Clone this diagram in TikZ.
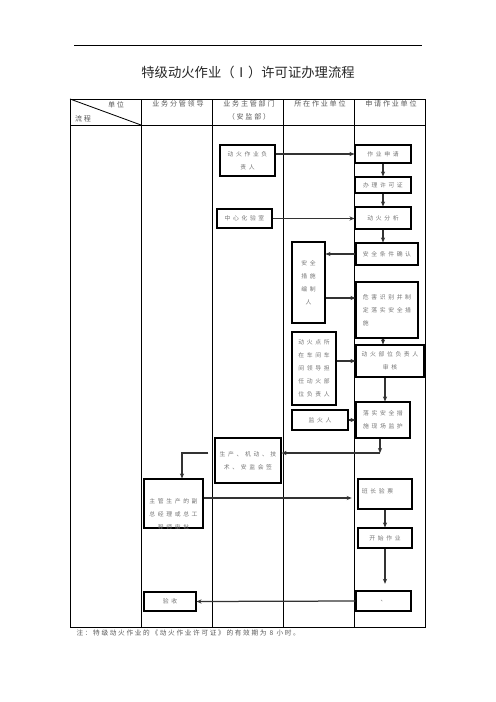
\documentclass[tikz,border=0pt]{standalone}
\usepackage{fontspec}
\setmainfont{Noto Sans CJK SC}
\newfontfamily\titlefont{Noto Sans CJK SC}
\newfontfamily\boxfont[LetterSpace=45]{Noto Sans CJK SC}
\newfontfamily\headfont[LetterSpace=25]{Noto Sans CJK SC}
\usetikzlibrary{arrows.meta}

\tikzset{every picture/.style={line width=1.2pt}}
\tikzset{
  box/.style={draw,line width=1.3pt,inner sep=0pt,align=center,text=black!55,
    font=\boxfont\fontsize{7}{15.6}\selectfont},
  flow/.style={draw=black!80,line width=1.5pt,-{Stealth[length=6pt,width=5pt]}},
  headtext/.style={inner sep=0pt,align=center,text=black!65,
    font=\headfont\fontsize{8.5}{15.6}\selectfont},
}

\begin{document}
\begin{tikzpicture}[x=1.2pt,y=1.2pt,yscale=-1,xscale=1]
	\path[use as bounding box] (0,0) rectangle (496,702);

	%Straight Lines: top rule
	\draw [line width=1pt] (74,45) -- (422,45) ;
	% Text Node
	\node [text=black!85,font=\titlefont\fontsize{16}{19}\selectfont] (title) at (248,72) {特级动火作业（Ⅰ）许可证办理流程};

	%Shape: Table
	\draw (70,99) rectangle (425.5,627) ;
	\draw (70,125) -- (425.5,125) ;
	\foreach \x in {141,212.5,283.5,354.5} {
		\draw (\x,99) -- (\x,627) ;
	}
	\draw [line width=1pt] (70,99) -- (141,125) ;

	% Text Node
	\node [headtext] (hdunit) at (116,105) {单位};
	\node [headtext] (hdflow) at (83,119) {流程};
	\node [headtext] (hdlead) at (178,104) {业务分管领导};
	\node [headtext] (hddept) at (249,110.5) {业务主管部门\\（安监部）};
	\node [headtext] (hdsite) at (320,104) {所在作业单位};
	\node [headtext] (hdapply) at (391,104) {申请作业单位};

	%Shape: Boxes, 所在 / 主管 columns
	\node [box,minimum width=66pt,minimum height=37.2pt] (fzr) at (247.5,160.5) {动火作业负\\责人};
	\node [box,minimum width=66pt,minimum height=22.8pt] (hys) at (244.5,218.5) {中心化验室};
	\node [box,minimum width=39.6pt,minimum height=97.2pt] (bzr) at (308.5,282.5) {安全\\措施\\编制\\人};
	\node [box,minimum width=52.8pt,minimum height=87.6pt] (cj) at (314,368.5) {动火点所\\在车间车\\间领导担\\任动火部\\位负责人};
	\node [box,minimum width=67.2pt,minimum height=24pt] (jhr) at (320,420) {监火人};
	\node [box,minimum width=79.2pt,minimum height=54pt] (hq) at (248,460.5) {\raisebox{6.6pt}{\begin{tabular}{@{}c@{}}生产、机动、技\\术、安监会签\end{tabular}}};

	%Shape: Boxes, 申请作业单位 column
	\node [box,minimum width=67.2pt,minimum height=21.6pt] (sq) at (383,154) {作业申请};
	\node [box,minimum width=67.2pt,minimum height=19.2pt] (bl) at (383,185) {办理许可证};
	\node [box,minimum width=67.2pt,minimum height=26.4pt] (fx) at (383,218) {动火分析};
	\node [box,minimum width=74.4pt,minimum height=26.4pt] (qr) at (387,254) {安全条件确认};
	\node [box,minimum width=74.4pt,minimum height=67.2pt] (wh) at (387,310) {\raisebox{6pt}{\begin{tabular}{@{}l@{}}危害识别并制\\定落实安全措\\施\end{tabular}}};
	\node [box,minimum width=81.6pt,minimum height=38.4pt] (sh) at (390,361) {动火部位负责人\\审核};
	\node [box,minimum width=64.8pt,minimum height=43.2pt] (jh) at (383,420) {落实安全措\\施现场监护};
	\node [box,minimum width=64.8pt,minimum height=36pt] (yp) at (385,494) {\raisebox{7pt}{班长验票\hspace{18pt}}};
	\node [box,minimum width=64.8pt,minimum height=24pt] (ks) at (385,538) {开始作业};
	\node [box,minimum width=66pt,minimum height=24pt] (fin) at (383.5,601) {、};

	%Shape: Boxes, 分管领导 column
	\node [box,minimum width=70.8pt,minimum height=58.8pt] (zg) at (173.5,503.5) {};
	\begin{scope}
		\clip (zg.south west) rectangle (zg.north east);
		\node [box,draw=none] (zgtext) at (173.5,514) {主管生产的副\\总经理或总工\\程师审批};
	\end{scope}
	\node [box,minimum width=62.4pt,minimum height=22.8pt] (ys) at (170,601.5) {验收};

	% turning points
	\coordinate (whin) at (0,298);
	\coordinate (turn1) at (380,453);
	\coordinate (turn2) at (182,453);
	\coordinate (ypin) at (0,498);

	%Straight Lines: connectors
	\draw [flow] (fzr.east |- sq.west) -- (sq.west) ;
	\draw [flow] (hys.east) -- (hys.east -| fx.west) ;
	\draw [flow] (sq.south) -- (bl.north) ;
	\draw [flow] (bl.south) -- (fx.north) ;
	\draw [flow] (fx.south) -- (fx.south |- qr.north) ;
	\draw [flow] (qr.west) -- (qr.west -| bzr.east) ;
	\draw [flow] (bzr.east |- whin) -- (wh.west |- whin) ;
	\draw [flow] (wh.south -| fx.south) -- (fx.south |- sh.north) ;
	\draw [flow] (cj.east |- sh.west) -- (sh.west) ;
	\draw [flow] (sh.south -| ks.south) -- (ks.south |- jh.north) ;
	\draw [flow] (jhr.east) -- (jhr.east -| jh.west) ;
	\draw [flow] (jh.south -| turn1) -- (turn1) ;
	\draw [flow] (turn1) -- (turn1 -| hq.east) ;
	\draw [flow,shorten <=7.2pt] (hq.west |- turn2) -- (turn2) -- (turn2 |- zg.north) ;
	\draw [flow,shorten >=7pt] (zg.east |- ypin) -- (yp.west |- ypin) ;
	\draw [flow] (yp.south) -- (ks.north) ;
	\draw [flow,shorten >=8pt] (ks.south) -- (ks.south |- fin.north) ;
	\draw [flow] (fin.west) -- (ys.east) ;

	% Text Node
	\node [headtext,anchor=west,font=\headfont\fontsize{8}{10}\selectfont] (note) at (76,633) {注：特级动火作业的《动火作业许可证》的有效期为 8 小时。};

\end{tikzpicture}
\end{document}
